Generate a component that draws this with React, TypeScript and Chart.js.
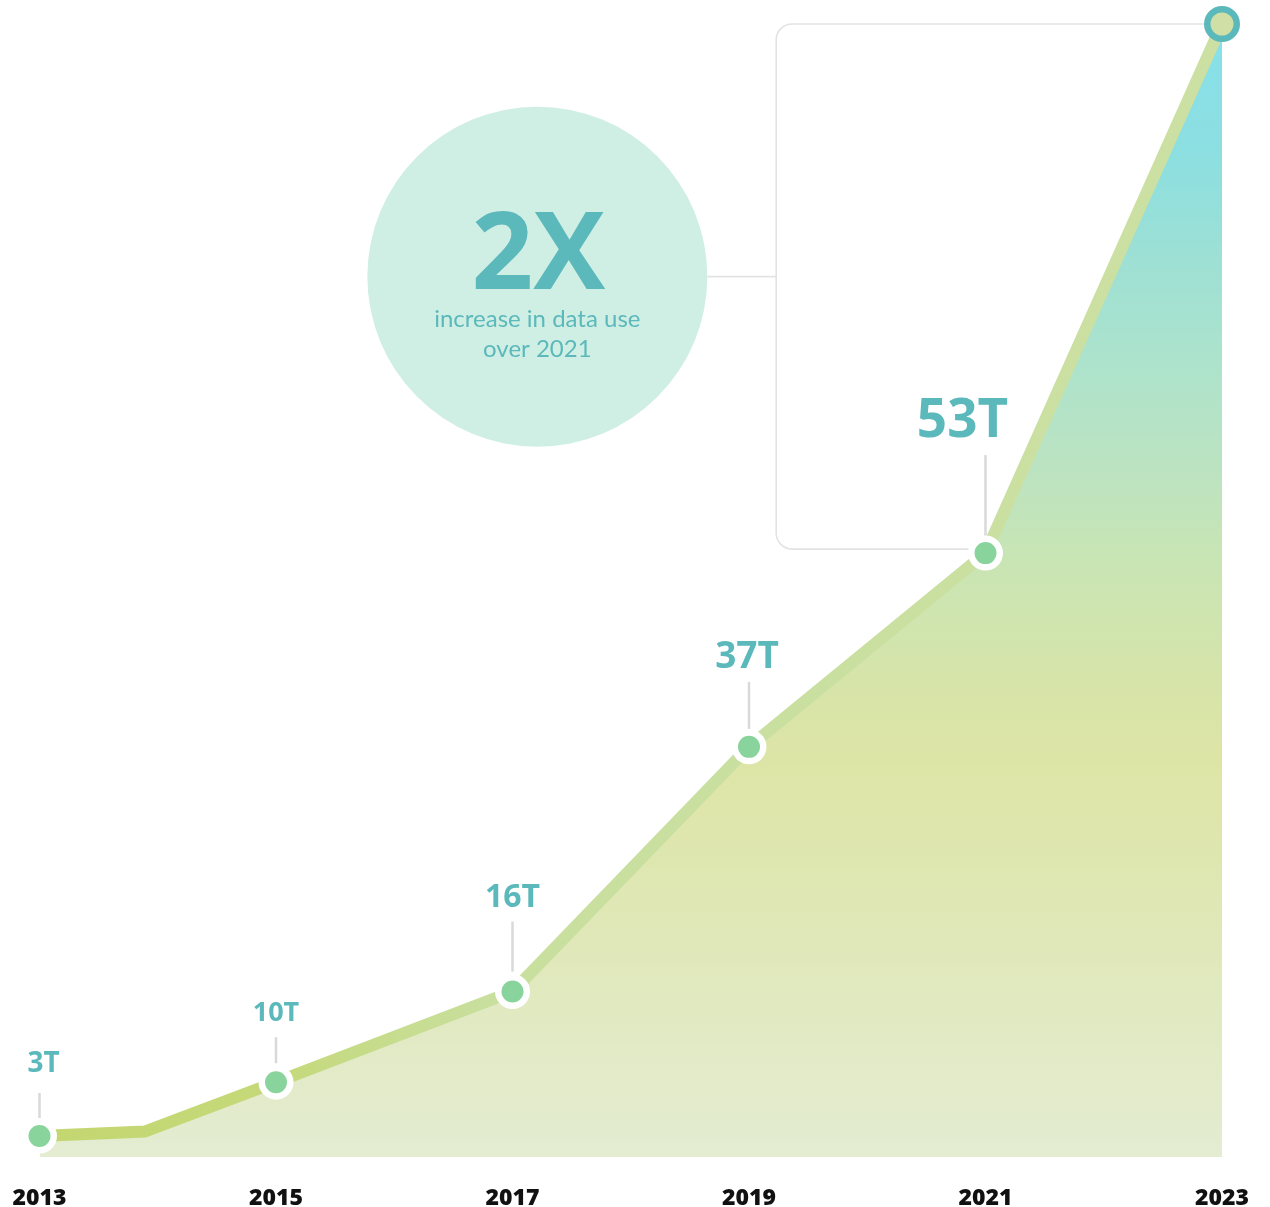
import React, { useEffect, useRef } from "react";
import { Chart, registerables } from "chart.js";

Chart.register(...registerables);

// ---- data ----
const years = [2013, 2013.89, 2015, 2017, 2019, 2021, 2023];
const values = [1.85, 2.25, 6.6, 14.6, 36.2, 53.3, 100];
const valueLabels = ["3T", "", "10T", "16T", "37T", "53T", ""];
const yearTicks = [2013, 2015, 2017, 2019, 2021, 2023];
const calloutBig = "2X";
const calloutLines = ["increase in data use", "over 2021"];
const calloutAt = { year: 2017.21, value: 77.7 };
const boxLeftYear = 2019.23;

// ---- styles ----
const TEAL = "#5bb8bb";
const LEADER = "#d9d9d9";
const BOLD = "'Open Sans', 'Noto Sans', sans-serif";
const LIGHT = "Lato, 'Open Sans', sans-serif";
const labelStyle: ({ size: number; dx: number; textY: number; from: number; to: number } | null)[] = [
  { size: 28, dx: 4, textY: -74, from: -43, to: -18 },
  null,
  { size: 27, dx: 0, textY: -71, from: -45, to: -19 },
  { size: 32, dx: 0, textY: -96, from: -70, to: -20 },
  { size: 37, dx: -2, textY: -92, from: -65, to: -18 },
  { size: 53, dx: -23, textY: -135, from: -98, to: -14 },
  null,
];

const decorPlugin = {
  id: "decor",
  beforeDatasetsDraw(chart: any) {
    const { ctx, scales } = chart;
    const meta = chart.getDatasetMeta(0);
    const pts = meta.data;
    const xs = scales.x;
    const ys = scales.y;
    ctx.save();
    // callout box (open on the right)
    const left = xs.getPixelForValue(boxLeftYear);
    const topY = pts[6].y;
    const botY = pts[5].y - 4;
    const r = 16;
    ctx.strokeStyle = "#e3e3e3";
    ctx.lineWidth = 1.6;
    ctx.beginPath();
    ctx.moveTo(pts[6].x, topY);
    ctx.lineTo(left + r, topY);
    ctx.arcTo(left, topY, left, topY + r, r);
    ctx.lineTo(left, botY - r);
    ctx.arcTo(left, botY, left + r, botY, r);
    ctx.lineTo(pts[5].x, botY);
    ctx.stroke();
    // connector + circle
    const cx = xs.getPixelForValue(calloutAt.year);
    const cy = ys.getPixelForValue(calloutAt.value);
    const cr = 170;
    ctx.beginPath();
    ctx.moveTo(cx + cr, cy);
    ctx.lineTo(left, cy);
    ctx.stroke();
    ctx.fillStyle = "#d0efe4";
    ctx.beginPath();
    ctx.arc(cx, cy, cr, 0, Math.PI * 2);
    ctx.fill();
    ctx.fillStyle = TEAL;
    ctx.textAlign = "center";
    ctx.textBaseline = "alphabetic";
    ctx.font = `700 108px ${BOLD}`;
    ctx.fillText(calloutBig, cx + 1, cy + 12);
    ctx.font = `400 24px ${LIGHT}`;
    ctx.fillText(calloutLines[0], cx, cy + 50);
    ctx.fillText(calloutLines[1], cx, cy + 80);
    // leader lines
    ctx.strokeStyle = LEADER;
    ctx.lineWidth = 2.5;
    pts.forEach((p: any, i: number) => {
      const s = labelStyle[i];
      if (!s || !valueLabels[i]) return;
      ctx.beginPath();
      ctx.moveTo(p.x, p.y + s.from);
      ctx.lineTo(p.x, p.y + s.to);
      ctx.stroke();
    });
    ctx.restore();
  },
  afterDatasetsDraw(chart: any) {
    const { ctx } = chart;
    const pts = chart.getDatasetMeta(0).data;
    ctx.save();
    ctx.fillStyle = TEAL;
    ctx.textAlign = "center";
    ctx.textBaseline = "alphabetic";
    pts.forEach((p: any, i: number) => {
      const s = labelStyle[i];
      if (!s || !valueLabels[i]) return;
      ctx.font = `700 ${s.size}px ${BOLD}`;
      ctx.fillText(valueLabels[i], p.x + s.dx, p.y + s.textY + 0.357 * s.size);
    });
    ctx.restore();
  },
};

export default function App() {
  const ref = useRef<HTMLCanvasElement>(null);
  useEffect(() => {
    const canvas = ref.current!;
    const chart = new Chart(canvas, {
      type: "line",
      data: {
        datasets: [
          {
            data: years.map((x, i) => ({ x, y: values[i] })),
            borderWidth: 12,
            borderColor: (c: any) => {
              const a = c.chart.chartArea;
              if (!a) return "#c6da84";
              const g = c.chart.ctx.createLinearGradient(a.left, 0, a.right, 0);
              g.addColorStop(0, "#c3d670");
              g.addColorStop(0.2, "#c5d97a");
              g.addColorStop(0.38, "#c8df9e");
              g.addColorStop(1, "#cbe0a2");
              return g;
            },
            backgroundColor: (c: any) => {
              const a = c.chart.chartArea;
              if (!a) return "#dfe7b4";
              const g = c.chart.ctx.createLinearGradient(0, a.top, 0, a.bottom);
              g.addColorStop(0, "#86e0ea");
              g.addColorStop(0.12, "#8ddfe0");
              g.addColorStop(0.21, "#9ee0d4");
              g.addColorStop(0.3, "#ade3cc");
              g.addColorStop(0.4, "#bde3c0");
              g.addColorStop(0.47, "#c8e5b4");
              g.addColorStop(0.6, "#d9e4a8");
              g.addColorStop(0.65, "#dde5a6");
              g.addColorStop(0.77, "#dfe7b4");
              g.addColorStop(0.86, "#e1e9c0");
              g.addColorStop(1, "#e4ecd2");
              return g;
            },
            fill: "origin",
            tension: 0,
            borderJoinStyle: "miter",
            pointRadius: years.map((_, i) => (i === 1 ? 0 : i === 6 ? 14.75 : 14.25)),
            pointBorderWidth: years.map(() => 6.5),
            pointBackgroundColor: years.map((_, i) => (i === 6 ? "#cfdfa6" : "#88d49c")),
            pointBorderColor: years.map((_, i) => (i === 6 ? TEAL : "#ffffff")),
            pointHoverRadius: 0,
            clip: false as any,
          },
        ],
      },
      options: {
        animation: false,
        responsive: false,
        devicePixelRatio: 1,
        layout: { autoPadding: false, padding: { left: 39.5, right: 48, top: 24, bottom: 0 } },
        plugins: { legend: { display: false }, tooltip: { enabled: false } },
        events: [],
        scales: {
          x: {
            type: "linear",
            min: 2013,
            max: 2023,
            grid: { display: false },
            border: { display: false },
            afterBuildTicks: (s: any) => {
              s.ticks = yearTicks.map((v) => ({ value: v }));
            },
            afterFit: (s: any) => {
              s.height = 50;
              s.paddingLeft = 0;
              s.paddingRight = 0;
            },
            ticks: {
              autoSkip: false,
              maxRotation: 0,
              padding: 20,
              color: "#111111",
              font: { family: BOLD, weight: "800" as any, size: 23 },
              callback: (v: any) => String(v),
            },
          },
          y: { display: false, min: 0, max: 100 },
        },
      },
      plugins: [decorPlugin],
    });
    return () => chart.destroy();
  }, []);
  return (
    <div style={{ position: "absolute", left: 0, top: 0, width: 1270, height: 1207, background: "#fff" }}>
      <canvas ref={ref} width={1270} height={1207} style={{ display: "block" }} />
    </div>
  );
}
